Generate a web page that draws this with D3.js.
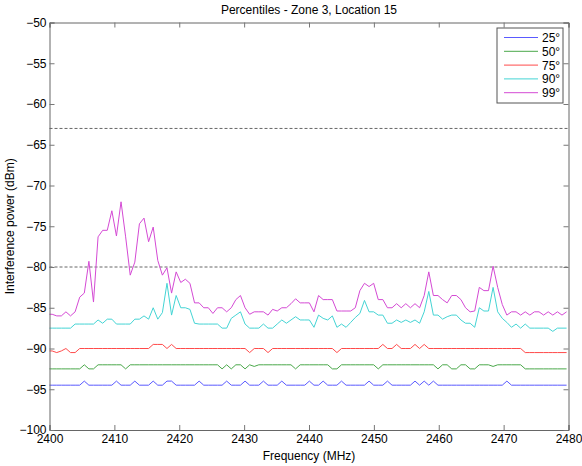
<!DOCTYPE html>
<html>
<head>
<meta charset="utf-8">
<script src="https://cdn.jsdelivr.net/npm/d3@7"></script>
<style>
	body { margin: 0; background: #fff; }
	text { font-family: "Liberation Sans", Arial, sans-serif; fill: #000; }
</style>
</head>
<body>
<div id="chart"></div>
<script>

// frequency grid of the scanner (MHz)
var freqStart = 2399.7,
	freqStep = 0.708,
	freqCount = 114;

// percentile series (dBm), one value per frequency bin
var p25 = [
	-94.5,-94.5,-94.5,-94.5,-94.5,-94.5,-94.5,-94.5,-94,-94.5,
	-94.5,-94.5,-94.5,-94.5,-94.5,-94,-94.5,-94.5,-94.5,-94,
	-94.5,-94.5,-94.5,-94,-94.5,-94.5,-94,-94,-94.5,-94.5,
	-94.5,-94.5,-94.5,-94,-94.5,-94.5,-94.5,-94.5,-94.5,-94,
	-94.5,-94.5,-94.5,-94,-94.5,-94.5,-94.5,-94,-94.5,-94.5,
	-94.5,-94,-94.5,-94.5,-94.5,-94.5,-94.5,-94,-94.5,-94.5,
	-94,-94.5,-94.5,-94.5,-94,-94.5,-94.5,-94.5,-94.5,-94.5,
	-94,-94.5,-94.5,-94.5,-94,-94.5,-94.5,-94.5,-94.5,-94.5,
	-94,-94.5,-94,-94.5,-94,-94.5,-94.5,-94.5,-94.5,-94.5,
	-94.5,-94.5,-94.5,-94.5,-94.5,-94.5,-94.5,-94.5,-94.5,-94.5,
	-94,-94.5,-94.5,-94.5,-94.5,-94.5,-94.5,-94.5,-94.5,-94.5,
	-94.5,-94.5,-94.5,-94.5];

var p50 = [
	-92.5,-92.5,-92.5,-92.5,-92.5,-92.5,-92.5,-92.5,-92,-92.5,
	-92.5,-92,-92,-92,-92,-92,-92,-92.5,-92,-92,
	-92,-92,-92,-92,-92,-92,-92,-92,-92,-92,
	-92,-92,-92,-92,-92,-92,-92,-92,-92.5,-92,
	-92.5,-92,-92,-92.5,-92,-92.2,-92,-92,-92,-92,
	-92,-92,-92,-92,-92.5,-92,-92,-92,-92,-92,
	-92,-92,-92.5,-92.5,-92,-92,-92,-92,-92,-92,
	-92,-92,-92.5,-92,-92,-92,-92,-92,-92,-92,
	-92,-92,-92,-92,-92,-92.5,-92,-92,-92.5,-92.5,
	-92,-92,-92.5,-92.5,-92,-92,-92,-92.2,-92,-92,
	-92,-92,-92,-92,-92.5,-92.5,-92.5,-92.5,-92.5,-92.5,
	-92.5,-92.5,-92.5,-92.5];

var p75 = [
	-90.3,-90.3,-90.5,-90.3,-90,-90.5,-90.5,-90,-90,-90,
	-90,-90,-90,-90,-90,-90,-90,-90,-90,-90,
	-90,-90,-90,-89.5,-89.5,-89.5,-90,-89.5,-90,-90,
	-90,-90,-90,-90,-90,-90,-90,-90,-90,-90,
	-90,-90,-90,-90,-90.5,-90,-90,-90,-90.5,-90,
	-90,-90,-90,-90,-90,-90,-90,-90,-90,-90,
	-90,-90,-90,-90.5,-90,-90,-90,-90,-90,-90,
	-90,-90,-90,-89.5,-90,-90,-89.5,-90,-90,-90,
	-89.5,-90,-89.5,-90,-90,-90,-90,-90,-90,-90,
	-90,-90,-90,-90,-90,-90,-90,-90,-90,-90,
	-90,-90,-90,-90,-90.5,-90.5,-90.5,-90.5,-90.5,-90.5,
	-90.5,-90.5,-90.5,-90.5];

var p90 = [
	-87.5,-87.5,-87.5,-87.5,-87.5,-87.5,-87,-87,-87,-87,
	-87,-86.5,-86.9,-86.4,-86.4,-87,-87,-87,-87,-86.4,
	-86.4,-86,-86.4,-85,-86.4,-85.6,-82,-85.9,-83.5,-85,
	-85,-85.2,-86.9,-87,-87,-87,-87,-87,-87.5,-87.5,
	-86.3,-85.9,-85.5,-87,-87.5,-87.5,-87.5,-87,-87.5,-87.5,
	-87,-86.5,-86.9,-86.5,-86.1,-86.5,-86.5,-86.5,-87.4,-85.9,
	-86.3,-86.5,-86,-87.4,-87,-87.4,-86.8,-86.2,-85.7,-84.1,
	-85.5,-85.5,-85.9,-85.9,-86.9,-86.9,-86.5,-86.8,-86.5,-86.8,
	-86.5,-86.9,-85.5,-83,-85.9,-85.9,-86.4,-86.1,-85.9,-85.9,
	-86.5,-86.9,-86.9,-87.4,-85,-85.4,-85.4,-82.5,-85.5,-86.3,
	-86.8,-87.4,-87,-87.5,-87,-87.5,-87.5,-87.5,-87.5,-87.5,
	-87.9,-87.5,-87.5,-87.5];

var p99 = [
	-85.8,-85.8,-86,-86,-85.5,-86,-85.5,-83.7,-83.2,-79.3,
	-84.3,-76.3,-75.5,-75.5,-73.1,-76.2,-72,-76.3,-81,-79.4,
	-74.7,-74,-76.9,-75.1,-79.2,-81,-80.1,-83.2,-80.6,-81.9,
	-81.5,-82,-84.4,-84.4,-85,-85,-85.7,-85,-85,-85.5,
	-85,-84,-83.5,-85,-85.8,-85.5,-85.5,-85.5,-85.9,-85.2,
	-85.4,-85,-85,-84.5,-83.9,-84.4,-84.4,-84.4,-85.5,-83.5,
	-84,-84,-84,-85.4,-85.4,-85.4,-85.4,-85,-82.9,-82,
	-82.4,-82,-84,-84,-85,-85,-84.5,-85,-84.5,-85,
	-84.5,-85,-83.5,-80.6,-83.5,-83.5,-84,-84.4,-83.5,-83.5,
	-84,-85,-85.5,-85.4,-82.5,-82.9,-82.9,-79.9,-82.5,-84.6,
	-85.9,-85.5,-85.5,-85.9,-85.5,-85.9,-85.5,-85.5,-85.9,-85.5,
	-85.9,-85.5,-85.9,-85.5];

// legend labels and line colours
var seriesLabels = ["25°", "50°", "75°", "90°", "99°"];
var seriesColors = ["#5a5aff", "#4aa84a", "#ff4a4a", "#44d4d4", "#d44ad4"];

// threshold levels drawn as dashed lines (dBm)
var thresholds = [-63, -80];

// axis ticks
var xTicks = [2400, 2410, 2420, 2430, 2440, 2450, 2460, 2470, 2480];
var yTicks = [-100, -95, -90, -85, -80, -75, -70, -65, -60, -55, -50];

// size and margins
var width = 582,
	height = 466,
	margin = {top: 22.5, right: 13.5, bottom: 36, left: 49.5};

var svg = d3.select("#chart")
	.append("svg")
	.attr("width", width)
	.attr("height", height);

var x = d3.scaleLinear()
	.domain([2400, 2480])
	.range([margin.left, width - margin.right]);

var y = d3.scaleLinear()
	.domain([-100, -50])
	.range([height - margin.bottom, margin.top]);

var freqs = d3.range(freqCount).map(function(i){

	return freqStart + i * freqStep;
});

var series = [p25, p50, p75, p90, p99];

// clip lines to the plot box
svg.append("clipPath")
	.attr("id", "plotclip")
	.append("rect")
	.attr("x", x(2400))
	.attr("y", y(-50))
	.attr("width", x(2480) - x(2400))
	.attr("height", y(-100) - y(-50));

// dashed threshold lines
svg.append("g")
	.selectAll("line")
	.data(thresholds)
	.enter()
	.append("line")
	.attr("x1", x(2400))
	.attr("x2", x(2480))
	.attr("y1", function(d){ return y(d); })
	.attr("y2", function(d){ return y(d); })
	.attr("stroke", "#666")
	.attr("stroke-width", 1)
	.attr("stroke-dasharray", "3,2");

// percentile lines
var line = d3.line()
	.x(function(d, i){ return x(freqs[i]); })
	.y(function(d){ return y(d); });

svg.append("g")
	.attr("clip-path", "url(#plotclip)")
	.selectAll("path")
	.data(series)
	.enter()
	.append("path")
	.attr("d", line)
	.attr("fill", "none")
	.attr("stroke", function(d, i){ return seriesColors[i]; })
	.attr("stroke-width", 1);

// axes, ticks pointing inward on all four sides
var tickLen = 5;

svg.append("g")
	.attr("transform", "translate(0," + y(-100) + ")")
	.call(d3.axisBottom(x).tickValues(xTicks).tickSize(-tickLen).tickPadding(4).tickFormat(d3.format("d")))
	.call(styleAxis);

svg.append("g")
	.attr("transform", "translate(0," + y(-50) + ")")
	.call(d3.axisTop(x).tickValues(xTicks).tickSize(-tickLen).tickFormat(""))
	.call(styleAxis);

svg.append("g")
	.attr("transform", "translate(" + x(2400) + ",0)")
	.call(d3.axisLeft(y).tickValues(yTicks).tickSize(-tickLen).tickPadding(3).tickFormat(d3.format("d")))
	.call(styleAxis);

svg.append("g")
	.attr("transform", "translate(" + x(2480) + ",0)")
	.call(d3.axisRight(y).tickValues(yTicks).tickSize(-tickLen).tickFormat(""))
	.call(styleAxis);

function styleAxis(g){

	g.select(".domain").attr("stroke", "#666");
	g.selectAll(".tick line").attr("stroke", "#777");
	g.selectAll(".tick text")
		.attr("font-size", "12px")
		.attr("fill", "#000");
}

// title and axis labels
svg.append("text")
	.attr("x", (x(2400) + x(2480)) / 2)
	.attr("y", 14)
	.attr("text-anchor", "middle")
	.attr("font-size", "12px")
	.text("Percentiles - Zone 3, Location 15");

svg.append("text")
	.attr("x", (x(2400) + x(2480)) / 2)
	.attr("y", 460)
	.attr("text-anchor", "middle")
	.attr("font-size", "12px")
	.text("Frequency (MHz)");

svg.append("text")
	.attr("transform", "translate(14," + (y(-75)) + ") rotate(-90)")
	.attr("text-anchor", "middle")
	.attr("font-size", "12px")
	.text("Interference power (dBm)");

// legend
var legend = svg.append("g")
	.attr("transform", "translate(497,28)");

legend.append("rect")
	.attr("width", 66)
	.attr("height", 75)
	.attr("fill", "#fff")
	.attr("stroke", "#555");

var entry = legend.selectAll(".entry")
	.data(seriesLabels)
	.enter()
	.append("g")
	.attr("class", "entry")
	.attr("transform", function(d, i){ return "translate(0," + (9.5 + i * 13.8) + ")"; });

entry.append("line")
	.attr("x1", 7)
	.attr("x2", 41)
	.attr("stroke", function(d, i){ return seriesColors[i]; })
	.attr("stroke-width", 1);

entry.append("text")
	.attr("x", 45)
	.attr("y", 4.5)
	.attr("font-size", "12px")
	.text(function(d){ return d; });

</script>
</body>
</html>
